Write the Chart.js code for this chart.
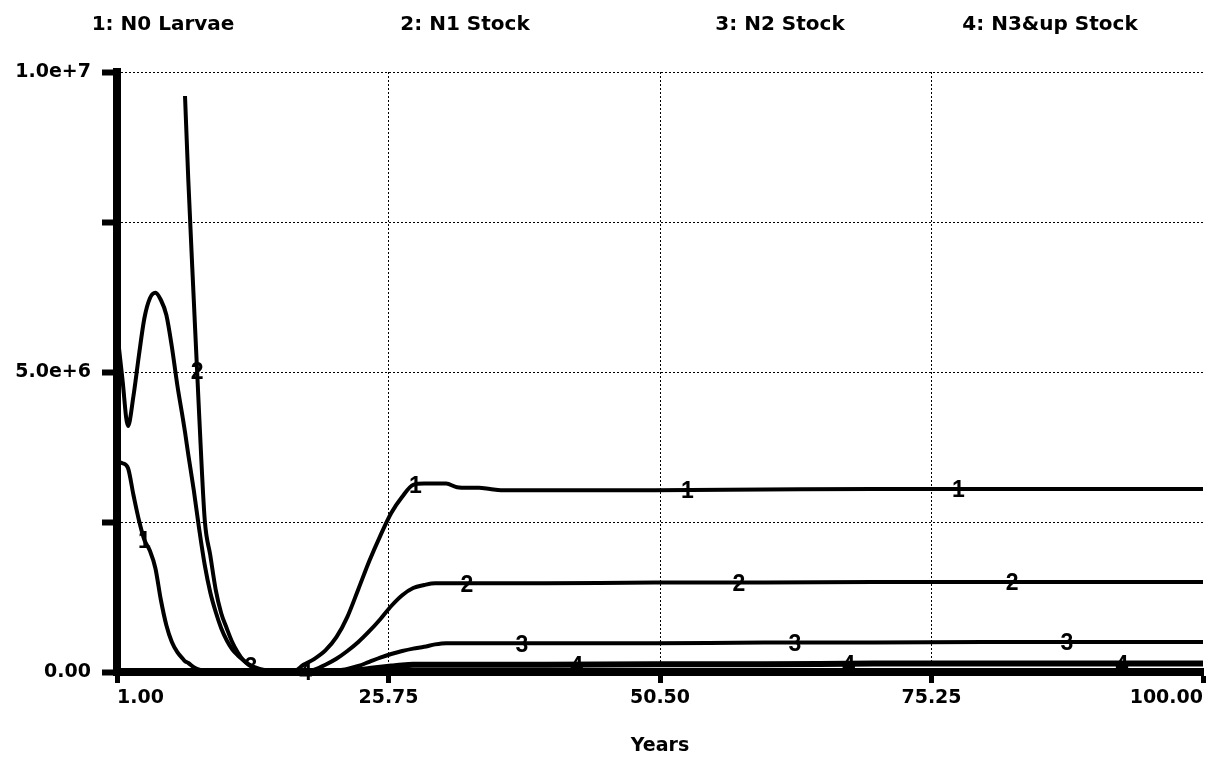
<!DOCTYPE html>
<html>
<head>
<meta charset="utf-8">
<title>Stock simulation</title>
<script src="https://cdn.jsdelivr.net/npm/chart.js@4.4.0/dist/chart.umd.min.js"></script>
<style>
  html, body { margin: 0; padding: 0; background: #fff; }
  #wrap { width: 1207px; height: 761px; }
</style>
</head>
<body>
<div id="wrap"><canvas id="stockChart" width="1207" height="761"></canvas></div>
<script>
// simulation output, values in millions
const years = [1, 1.5, 2, 2.5, 3, 3.5, 4, 4.5, 5, 5.5, 6, 6.5, 7,
    7.2, 7.5, 8, 8.5, 9, 9.5, 10, 10.5, 11, 11.5, 12, 12.5, 13,
    14, 15, 16, 17, 18, 19, 20, 21, 22, 23, 24, 25, 26, 27, 28, 29, 30, 31, 32, 33, 34, 35, 36,
    40, 50, 60, 70, 80, 90, 100];

const n0Larvae = [3.5, 3.48, 3.4, 2.95, 2.53, 2.2, 2.02, 1.73, 1.2, 0.78, 0.5, 0.33, 0.22,
    0.18, 0.15, 0.08, 0.04, 0.02, 0.01, 0, 0, 0, 0, 0, 0, 0,
    0, 0, 0, 0, 0.12, 0.22, 0.36, 0.58, 0.92, 1.38, 1.85, 2.27, 2.65, 2.92, 3.12, 3.14, 3.14, 3.14, 3.08, 3.07, 3.07, 3.05, 3.03,
    3.03, 3.03, 3.04, 3.05, 3.05, 3.05, 3.05];

// off the top of the scale before year 7, so not drawn
const n1Stock = [null, null, null, null, null, null, null, null, null, null, null, null, null,
    9.6, 8.2, 6.2, 4.25, 2.53, 1.95, 1.37, 0.98, 0.73, 0.5, 0.33, 0.2, 0.12,
    0.02, 0, 0, 0, 0, 0.04, 0.12, 0.22, 0.35, 0.5, 0.68, 0.88, 1.1, 1.28, 1.4, 1.45, 1.48, 1.48, 1.48, 1.48, 1.48, 1.48, 1.48,
    1.48, 1.49, 1.49, 1.5, 1.5, 1.5, 1.5];

const n2Stock = [5.7, 4.87, 4.1, 4.6, 5.28, 5.9, 6.23, 6.32, 6.2, 5.95, 5.42, 4.78, 4.23,
    4.0, 3.62, 3.03, 2.37, 1.78, 1.33, 1.0, 0.73, 0.53, 0.38, 0.28, 0.2, 0.13,
    0.05, 0.02, 0, 0, 0, 0, 0, 0.02, 0.05, 0.1, 0.17, 0.24, 0.3, 0.35, 0.39, 0.42, 0.46, 0.48, 0.48, 0.48, 0.48, 0.48, 0.48,
    0.48, 0.48, 0.49, 0.49, 0.5, 0.5, 0.5];

const n3upStock = [0, 0, 0, 0, 0, 0, 0, 0, 0, 0, 0, 0, 0,
    0, 0, 0, 0, 0, 0, 0, 0, 0, 0, 0, 0, 0,
    0, 0, 0, 0, 0, 0, 0, 0.01, 0.02, 0.03, 0.05, 0.07, 0.09, 0.11, 0.12, 0.12, 0.12, 0.12, 0.12, 0.12, 0.12, 0.12, 0.12,
    0.12, 0.13, 0.13, 0.14, 0.14, 0.14, 0.14];

const seriesNames = ['1: N0 Larvae', '2: N1 Stock', '3: N2 Stock', '4: N3&up Stock'];
const xTicks = [1, 25.75, 50.5, 75.25, 100];
const yTicks = [0, 2.5e6, 5e6, 7.5e6, 1e7];
const yTickLabels = ['0.00', '', '5.0e+6', '', '1.0e+7'];

// years where the series number is printed on each curve
const labelYears = [
    [3.5, 28.2, 53, 77.7],
    [8.3, 32.9, 57.7, 82.6],
    [13.2, 37.9, 62.8, 87.6],
    [18.2, 42.9, 67.7, 92.6]
];

const allSeries = [n0Larvae, n1Stock, n2Stock, n3upStock];
const tickFont = { family: 'DejaVu Sans', size: 19, weight: 'bold' };

function valueAt(arr, yr) {
    for (let i = 1; i < years.length; i++) {
        if (yr <= years[i]) {
            const a = arr[i - 1], b = arr[i];
            if (a == null) return b;
            const t = (yr - years[i - 1]) / (years[i] - years[i - 1]);
            return a + (b - a) * t;
        }
    }
    return arr[arr.length - 1];
}

// STELLA style: number of the series drawn on its line
const curveNumbers = {
    id: 'curveNumbers',
    afterDatasetsDraw(chart) {
        const ctx = chart.ctx;
        const xs = chart.scales.x, ys = chart.scales.y;
        ctx.save();
        ctx.fillStyle = '#000';
        ctx.font = 'bold 23px "Liberation Sans", Arial, sans-serif';
        ctx.textAlign = 'center';
        ctx.textBaseline = 'middle';
        labelYears.forEach((list, s) => {
            list.forEach(yr => {
                const v = valueAt(allSeries[s], yr);
                if (v == null) return;
                ctx.fillText(String(s + 1), xs.getPixelForValue(yr), ys.getPixelForValue(v * 1e6) + 2);
            });
        });
        ctx.restore();
    }
};

// names across the top
const header = {
    id: 'header',
    afterDraw(chart) {
        const ctx = chart.ctx;
        const centers = [163, 465, 780, 1050];
        ctx.save();
        ctx.fillStyle = '#000';
        ctx.font = 'bold 20px "DejaVu Sans", sans-serif';
        ctx.textAlign = 'center';
        ctx.textBaseline = 'middle';
        seriesNames.forEach((name, i) => ctx.fillText(name, centers[i], 25));
        ctx.restore();
    }
};

const datasets = allSeries.map((arr, i) => ({
    label: seriesNames[i],
    data: years.map((x, j) => ({ x: x, y: arr[j] == null ? null : arr[j] * 1e6 })),
    borderColor: '#000',
    borderWidth: i === 3 ? 6 : 4,
    pointRadius: 0,
    fill: false,
    spanGaps: false,
    cubicInterpolationMode: 'monotone'
}));

new Chart(document.getElementById('stockChart').getContext('2d'), {
    type: 'line',
    data: { datasets: datasets },
    options: {
        responsive: false,
        animation: false,
        devicePixelRatio: 1,
        layout: { padding: { top: 72, left: 0, right: 0, bottom: 0 } },
        plugins: {
            legend: { display: false },
            tooltip: { enabled: false }
        },
        scales: {
            x: {
                type: 'linear',
                min: 1,
                max: 100,
                afterBuildTicks: s => { s.ticks = xTicks.map(v => ({ value: v })); },
                afterFit: s => { s.height = 89; },
                ticks: {
                    align: 'inner',
                    autoSkip: false,
                    maxRotation: 0,
                    color: '#000',
                    padding: 4,
                    font: tickFont,
                    callback: v => Number(v).toFixed(2)
                },
                grid: {
                    color: c => (c.tick && (c.tick.value === 1 || c.tick.value === 100)) ? 'rgba(0,0,0,0)' : '#000',
                    lineWidth: 1,
                    tickLength: 11,
                    tickWidth: 5,
                    tickColor: '#000'
                },
                border: { display: true, width: 8, color: '#000', dash: [2, 2] },
                title: {
                    display: true,
                    text: 'Years',
                    color: '#000',
                    font: tickFont,
                    padding: { top: 0, bottom: 4 }
                }
            },
            y: {
                min: 0,
                max: 1e7,
                afterBuildTicks: s => { s.ticks = yTicks.map(v => ({ value: v })); },
                afterFit: s => { s.width = 117; },
                ticks: {
                    color: '#000',
                    padding: 11,
                    font: tickFont,
                    callback: (v, i) => yTickLabels[i]
                },
                grid: {
                    color: c => (c.tick && c.tick.value === 0) ? 'rgba(0,0,0,0)' : '#000',
                    lineWidth: 1,
                    tickLength: 15,
                    tickWidth: 6,
                    tickColor: '#000'
                },
                border: { display: true, width: 8, color: '#000', dash: [2, 2] }
            }
        }
    },
    plugins: [curveNumbers, header]
});
</script>
</body>
</html>
